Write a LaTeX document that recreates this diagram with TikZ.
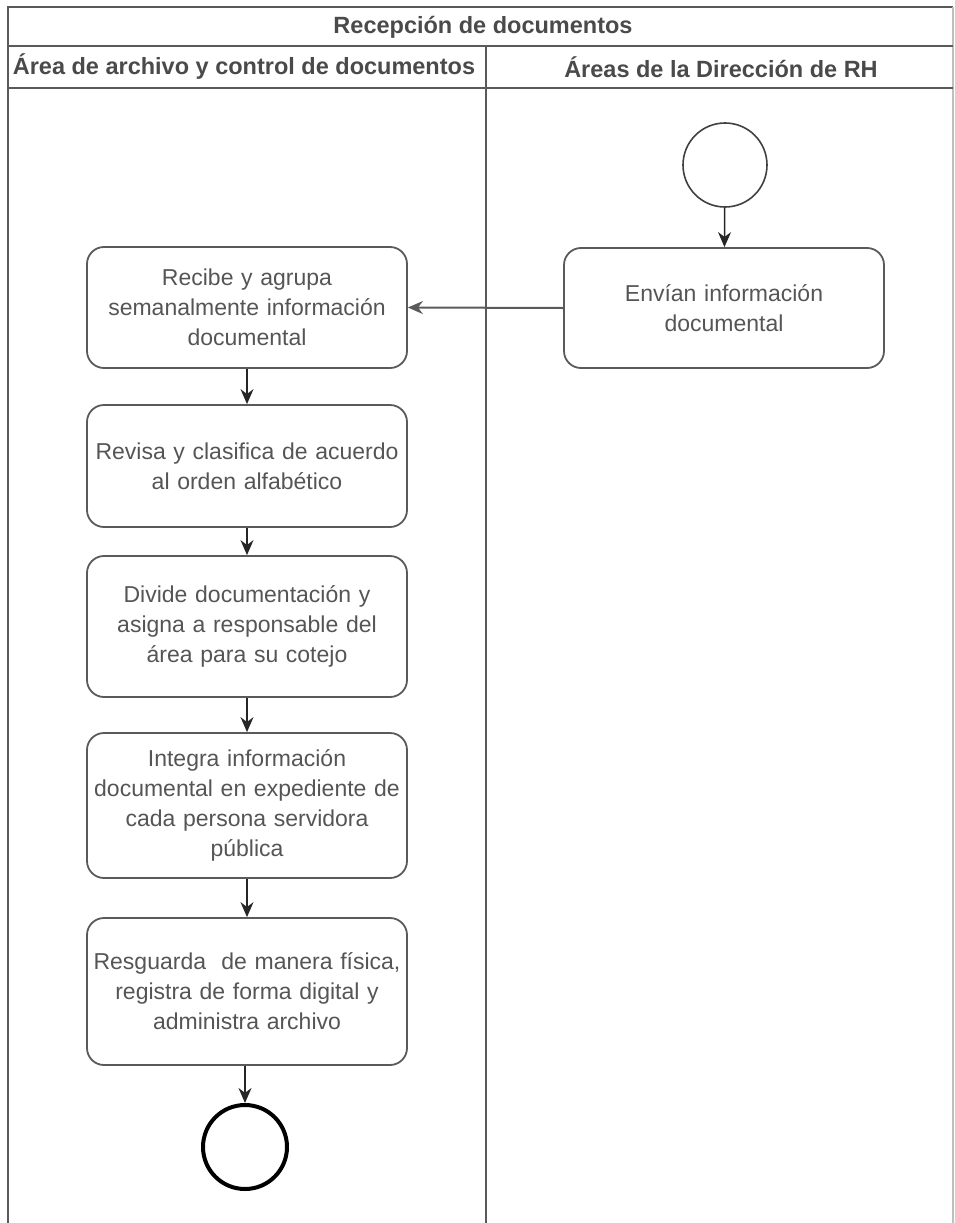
\documentclass[tikz,border=0pt]{standalone}
\usepackage{fontspec}
\setmainfont{Liberation Sans}
\usetikzlibrary{arrows.meta}
\definecolor{framec}{HTML}{5A5A5A}
\definecolor{textc}{HTML}{555555}
\definecolor{headc}{HTML}{4A4A4A}
\tikzset{
  lane/.style={draw=framec, line width=1.5pt},
  hdr/.style={text=headc, font=\bfseries\fontsize{23.5}{27}\selectfont, inner sep=0pt},
  stepbox/.style={draw=framec, line width=1.8pt, rounded corners=17pt, minimum width=320pt,
    text width=316pt, align=center, inner sep=2pt, text=textc,
    font=\fontsize{23}{30}\selectfont},
  startev/.style={circle, draw=black!75, line width=1.6pt, minimum size=84pt, inner sep=0pt},
  endev/.style={circle, draw=black, line width=4pt, minimum size=84pt, inner sep=0pt},
  flow/.style={-{Stealth[length=15pt,width=13pt]}, line width=1.5pt, draw=black!85},
  gflow/.style={-{Stealth[length=15pt,width=13pt]}, line width=2pt, draw=framec},
}
\begin{document}
\begin{tikzpicture}[x=1pt,y=-1pt]
\useasboundingbox (0,0) rectangle (955,1223);
% pool frame
\draw[lane] (8,1223) -- (8,7) -- (953,7);
\draw[lane, draw=black!25] (953,7) -- (953,1223);
\draw[lane] (8,46) -- (953,46);
\draw[lane] (8,88) -- (953,88);
\draw[lane] (486,46) -- (486,1223);
% headers
\node[hdr] (title) at (483,27) {Recepción de documentos};
\node[hdr] (laneA) at (244,67) {Área de archivo y control de documentos};
\node[hdr] (laneB) at (721,67) {Áreas de la Dirección de RH};
% nodes
\node[startev] (start) at (725,165) {};
\node[stepbox, minimum height=120pt] (envian) at (724,308) {Envían información\\documental};
\node[stepbox, minimum height=121pt] (recibe) at (247,307.5) {Recibe y agrupa\\semanalmente información\\documental};
\node[stepbox, minimum height=122pt] (revisa) at (247,466) {Revisa y clasifica de acuerdo\\al orden alfabético};
\node[stepbox, minimum height=141pt] (divide) at (247,626.5) {Divide documentación y\\asigna a responsable del\\área para su cotejo};
\node[stepbox, minimum height=145pt] (integra) at (247,805.5) {Integra información\\documental en expediente de\\cada persona servidora\\pública};
\node[stepbox, minimum height=147pt] (resguarda) at (247,991.5) {Resguarda\ \ de manera física,\\registra de forma digital y\\administra archivo};
\node[endev] (fin) at (245,1147) {};
% connectors
\draw[flow] (start) -- (envian);
\draw[gflow] (envian.west) -- (recibe.east);
\draw[flow] (recibe) -- (revisa);
\draw[flow] (revisa) -- (divide);
\draw[flow] (divide) -- (integra);
\draw[flow] (integra) -- (resguarda);
\draw[flow] (resguarda.south -| fin) -- (fin);
\end{tikzpicture}
\end{document}
